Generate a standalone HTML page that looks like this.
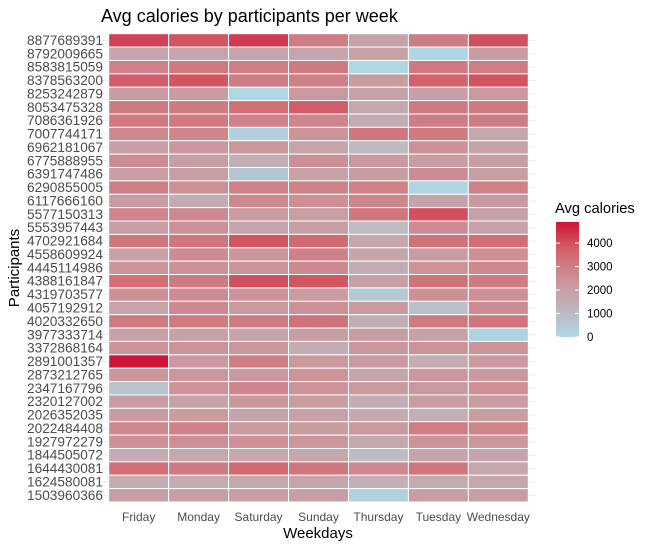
<!DOCTYPE html>
<html><head><meta charset="utf-8"><style>
body{margin:0;background:#fff;}
svg{display:block;font-family:"Liberation Sans",Arial,sans-serif;}
</style></head><body>
<svg id="c" width="650" height="548"></svg>
<script>
const participants=["8877689391","8792009665","8583815059","8378563200","8253242879","8053475328","7086361926","7007744171","6962181067","6775888955","6391747486","6290855005","6117666160","5577150313","5553957443","4702921684","4558609924","4445114986","4388161847","4319703577","4057192912","4020332650","3977333714","3372868164","2891001357","2873212765","2347167796","2320127002","2026352035","2022484408","1927972279","1844505072","1644430081","1624580081","1503960366"];
const weekdays=["Friday","Monday","Saturday","Sunday","Thursday","Tuesday","Wednesday"];
const avgCalories=[
[4200,3900,4300,3000,1900,3000,4000],
[1800,1800,1800,1800,1900,100,2100],
[2900,3100,3000,3100,50,3100,3000],
[3800,3900,3000,2900,2100,3700,3900],
[2100,2100,50,2200,1900,2000,2200],
[3100,3100,3400,3800,1700,3100,3100],
[3100,3100,2900,2800,1500,3000,3000],
[2700,2800,300,2400,3200,3100,1700],
[2000,2300,2300,1800,1100,2500,1900],
[2600,2000,1400,2500,2200,2000,2000],
[2000,2000,600,1900,2100,2600,2000],
[3000,2500,2900,2900,2900,100,2900],
[2100,1500,2700,2500,2800,1800,2200],
[2800,2700,2100,2000,3200,4000,1900],
[2000,2500,1800,2000,1000,2600,1900],
[3200,3200,3900,3500,1700,3300,3400],
[1900,2600,2300,2900,1800,2100,2500],
[2400,2500,2400,2700,1500,2400,2700],
[3400,3100,4000,3900,1900,3300,3100],
[2500,2600,2400,2100,500,2500,2500],
[1800,2700,2200,2500,2200,800,2600],
[3100,3100,3100,3300,1500,3100,3200],
[1900,1900,1800,2000,2000,1900,150],
[2400,2400,2300,1500,2300,2400,2400],
[4900,2200,3000,2200,2200,1500,2200],
[2300,2300,2200,2400,1800,2300,2200],
[700,2400,2800,2400,2200,2200,2500],
[2100,1900,2300,2100,1500,2100,2100],
[2100,2100,1800,1900,1600,1400,2000],
[2700,2900,2200,2100,2200,3000,2800],
[2500,2500,2500,2300,1700,2400,2300],
[1600,1700,1700,1700,1000,1800,1800],
[3400,3100,3500,3200,2700,3200,1700],
[1600,1600,1700,1800,1400,1600,1700],
[2000,2000,2000,2000,200,2000,2000]];
const legendTicks=[0,1000,2000,3000,4000];
const vMax=4900;

const NS="http://www.w3.org/2000/svg";
const svg=document.getElementById('c');
function mk(t,a,txt){const e=document.createElementNS(NS,t);for(const k in a)e.setAttribute(k,a[k]);if(txt!=null)e.textContent=txt;svg.appendChild(e);return e;}
const stops=[[0,[173,216,230]],[0.25,[192,180,188]],[0.5,[204,146,152]],[0.75,[210,100,108]],[1,[208,20,55]]];
function color(v){let t=Math.max(0,Math.min(1,v/vMax));for(let i=1;i<stops.length;i++){if(t<=stops[i][0]){const a=stops[i-1],b=stops[i];const f=(t-a[0])/(b[0]-a[0]);const c=a[1].map((x,j)=>Math.round(x+(b[1][j]-x)*f));return `rgb(${c})`;}}return 'rgb(208,20,55)';}
const x0=108.7,x1=528.3,y0=33.7,y1=502;
const cw=(x1-x0)/weekdays.length, rh=(y1-y0)/participants.length;
const xPos=i=>x0+i*cw, yPos=j=>y0+j*rh;

participants.forEach((p,j)=>{const l=mk('line',{x1:100,x2:536,y1:yPos(j)+rh/2,y2:yPos(j)+rh/2,stroke:'#ebebeb','stroke-width':1});

});
avgCalories.forEach((row,j)=>row.forEach((v,i)=>{
const r=mk('rect',{x:xPos(i),y:yPos(j),width:cw,height:rh,fill:color(v),stroke:'#fff','stroke-width':1});


}));
participants.forEach((p,j)=>{const t=mk('text',{x:103,y:yPos(j)+rh/2+4.5,'text-anchor':'end','font-size':13.5,fill:'#4d4d4d','textLength':76,'lengthAdjust':'spacingAndGlyphs'},p);

});
weekdays.forEach((d,i)=>{const t=mk('text',{x:xPos(i)+cw/2,y:521,'text-anchor':'middle','font-size':12,fill:'#4d4d4d'},d);

});
let t=mk('text',{x:101,y:22,'font-size':18,fill:'#000'},'Avg calories by participants per week');

t=mk('text',{x:318,y:538,'text-anchor':'middle','font-size':15,fill:'#000'},'Weekdays');

t=mk('text',{x:0,y:0,'text-anchor':'middle','font-size':15,fill:'#000',transform:'translate(19,268) rotate(-90)'},'Participants');

const defs=mk('defs',{});
const g=document.createElementNS(NS,'linearGradient');g.setAttribute('id','lg');g.setAttribute('x1','0');g.setAttribute('y1','1');g.setAttribute('x2','0');g.setAttribute('y2','0');
stops.forEach(s=>{const st=document.createElementNS(NS,'stop');st.setAttribute('offset',s[0]);st.setAttribute('stop-color',`rgb(${s[1]})`);g.appendChild(st);});
defs.appendChild(g);
const lb=337,lt=222,ly=v=>lb-(v/vMax)*(lb-lt);
t=mk('text',{x:555,y:213,'font-size':14.7,fill:'#000'},'Avg calories');

t=mk('rect',{x:556,y:lt,width:23,height:lb-lt,fill:'url(#lg)'});

legendTicks.forEach(v=>{
mk('line',{x1:556,x2:560,y1:ly(v),y2:ly(v),stroke:'#fff','stroke-width':1});
mk('line',{x1:575,x2:579,y1:ly(v),y2:ly(v),stroke:'#fff','stroke-width':1});
const l=mk('text',{x:587,y:ly(v)+4,'font-size':11.5,fill:'#000'},String(v));

});
</script>
</body></html>
